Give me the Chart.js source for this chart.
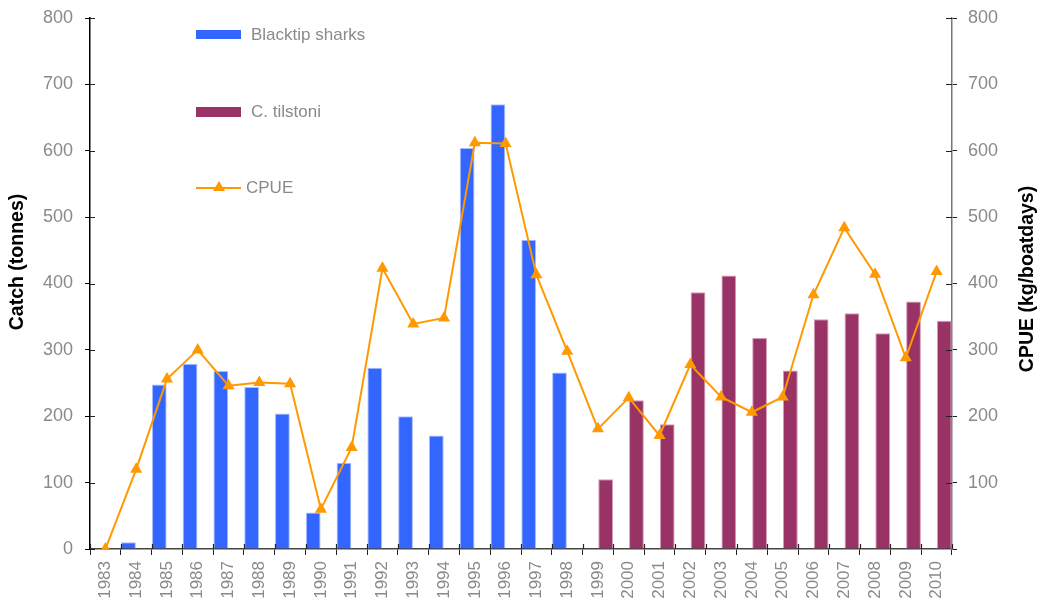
<!DOCTYPE html>
<html>
<head>
<meta charset="utf-8">
<title>Catch and CPUE</title>
<script src="https://cdn.jsdelivr.net/npm/chart.js@4.4.1/dist/chart.umd.min.js"></script>
<style>
  html, body { margin: 0; padding: 0; background: #fff; }
  #wrap { width: 1041px; height: 605px; position: relative; }
</style>
</head>
<body>
<div id="wrap"><canvas id="catchChart" width="1041" height="605"></canvas></div>
<script>
var years = ["1983","1984","1985","1986","1987","1988","1989","1990","1991","1992",
             "1993","1994","1995","1996","1997","1998","1999","2000","2001","2002",
             "2003","2004","2005","2006","2007","2008","2009","2010"];

// catch in tonnes, blacktip until 1998 then C. tilstoni
var blacktip = [0, 10, 248, 279, 268, 244, 204, 55, 130, 273, 200, 171, 604, 670, 466, 266,
                null, null, null, null, null, null, null, null, null, null, null, null];
var tilstoni = [null, null, null, null, null, null, null, null, null, null, null, null, null, null, null, null,
                105, 224, 188, 387, 412, 318, 269, 346, 355, 325, 373, 344];

// kg per boat day
var cpue = [0, 120, 256, 300, 246, 251, 249, 60, 153, 423, 339, 348, 612, 611, 413, 298,
            181, 228, 171, 278, 229, 206, 229, 383, 484, 414, 288, 418];

var yTicks = [0, 100, 200, 300, 400, 500, 600, 700, 800];

var BLUE = '#3366ff';
var MAROON = '#993366';
var ORANGE = '#ff9900';
var GREY_TEXT = '#8a8a8a';
var FONT = "'Liberation Sans', Arial, sans-serif";

// legend, axis titles and the inner half of the tick marks
var extras = {
  id: 'extras',
  afterDraw: function(chart) {
    var c = chart.ctx;
    var area = chart.chartArea;
    var xs = chart.scales.x, yl = chart.scales.y;
    c.save();

    // ticks poke into the plot as well
    c.lineWidth = 1.2;
    c.strokeStyle = '#222';
    c.beginPath();
    yTicks.forEach(function(v) {
      var py = Math.round(yl.getPixelForValue(v)) + 0.5;
      c.moveTo(area.left, py); c.lineTo(area.left + 5, py);
      if (v > 0) { c.moveTo(area.right - 6, py); c.lineTo(area.right, py); }
    });
    for (var i = 0; i <= years.length; i++) {
      var px;
      if (i === 0) px = area.left;
      else if (i === years.length) px = area.right;
      else px = (xs.getPixelForValue(i - 1) + xs.getPixelForValue(i)) / 2;
      px = Math.round(px) + 0.5;
      c.moveTo(px, area.bottom); c.lineTo(px, area.bottom - 5);
    }
    c.stroke();

    // legend
    c.fillStyle = BLUE;
    c.fillRect(196, 30, 45, 9);
    c.fillStyle = MAROON;
    c.fillRect(196, 107, 45, 10);

    c.strokeStyle = ORANGE;
    c.lineWidth = 2;
    c.beginPath();
    c.moveTo(196, 188);
    c.lineTo(241, 188);
    c.stroke();
    c.fillStyle = ORANGE;
    c.beginPath();
    c.moveTo(219, 181);
    c.lineTo(225, 191);
    c.lineTo(213, 191);
    c.closePath();
    c.fill();

    c.font = '17px ' + FONT;
    c.fillStyle = GREY_TEXT;
    c.textBaseline = 'middle';
    c.textAlign = 'left';
    c.fillText('Blacktip sharks', 251, 35);
    c.fillText('C. tilstoni', 251, 112);
    c.fillText('CPUE', 246, 188);

    // axis titles, both reading upwards
    c.font = 'bold 19.5px ' + FONT;
    c.fillStyle = '#000';
    c.textAlign = 'center';
    c.translate(18, 262);
    c.rotate(-Math.PI / 2);
    c.fillText('Catch (tonnes)', 0, 0);
    c.setTransform(1, 0, 0, 1, 0, 0);
    c.translate(1028, 279);
    c.rotate(-Math.PI / 2);
    c.fillText('CPUE (kg/boatdays)', 0, 0);

    c.restore();
  }
};

// fixed axis widths; no extra room reserved above the top label
function fitY(width) {
  return function(scale) {
    scale.width = width;
    scale.paddingTop = 0;
    scale.paddingBottom = 0;
  };
}

var ctx = document.getElementById('catchChart');

new Chart(ctx, {
  data: {
    labels: years,
    datasets: [
      {
        type: 'line',
        label: 'CPUE',
        data: cpue,
        yAxisID: 'yRight',
        borderColor: ORANGE,
        backgroundColor: ORANGE,
        borderWidth: 2,
        pointStyle: 'triangle',
        pointRadius: 7,
        pointBorderWidth: 0,
        tension: 0,
        order: 0
      },
      {
        type: 'bar',
        label: 'Blacktip sharks',
        data: blacktip,
        yAxisID: 'y',
        backgroundColor: BLUE,
        borderColor: 'rgba(150,175,255,0.8)',
        borderWidth: { left: 1, right: 1, top: 1, bottom: 0 },
        order: 1
      },
      {
        type: 'bar',
        label: 'C. tilstoni',
        data: tilstoni,
        yAxisID: 'y',
        backgroundColor: MAROON,
        borderColor: 'rgba(200,130,165,0.8)',
        borderWidth: { left: 1, right: 1, top: 1, bottom: 0 },
        order: 1
      }
    ]
  },
  options: {
    responsive: false,
    animation: false,
    layout: { padding: { top: 18, left: 0, right: 0, bottom: 0 } },
    datasets: {
      bar: { categoryPercentage: 1.0, barPercentage: 0.96 }
    },
    plugins: {
      legend: { display: false },
      tooltip: { enabled: false }
    },
    scales: {
      x: {
        offset: true,
        grid: {
          offset: true,
          drawOnChartArea: false,
          drawTicks: true,
          tickLength: 6,
          color: '#222'
        },
        border: { color: '#444', width: 1.5 },
        ticks: {
          color: GREY_TEXT,
          font: { family: FONT, size: 17 },
          minRotation: 90,
          maxRotation: 90,
          autoSkip: false,
          padding: 6
        },
        afterFit: function(scale) {
          scale.height = 56;
          scale.paddingLeft = 0;
          scale.paddingRight = 0;
        }
      },
      y: {
        position: 'left',
        min: 0,
        max: 800,
        afterBuildTicks: function(scale) {
          scale.ticks = yTicks.map(function(v) { return { value: v }; });
        },
        grid: {
          drawOnChartArea: false,
          tickLength: 5,
          color: '#000'
        },
        border: { color: '#000', width: 1.5 },
        ticks: {
          autoSkip: false,
          color: GREY_TEXT,
          font: { family: FONT, size: 18 },
          padding: 12
        },
        afterFit: fitY(90)
      },
      yRight: {
        position: 'right',
        min: 0,
        max: 800,
        afterBuildTicks: function(scale) {
          scale.ticks = yTicks.map(function(v) { return { value: v }; });
        },
        grid: {
          drawOnChartArea: false,
          tickLength: 5,
          color: '#222'
        },
        border: { color: '#777', width: 1.5 },
        ticks: {
          autoSkip: false,
          color: GREY_TEXT,
          font: { family: FONT, size: 18 },
          padding: 11,
          callback: function(v) { return v === 0 ? '' : v; }
        },
        afterFit: fitY(89)
      }
    }
  },
  plugins: [extras]
});
</script>
</body>
</html>
